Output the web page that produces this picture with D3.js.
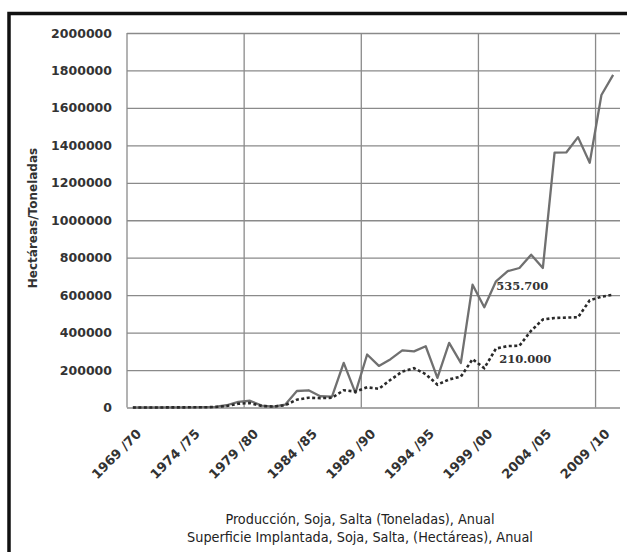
<!DOCTYPE html>
<html>
<head>
    <meta charset="utf-8">
    <title>soja salta</title>
    <script src="https://d3js.org/d3.v7.min.js"></script>
    <style> body { margin: 0px; background: #fff; }</style>
</head>
<body>
<svg width="627" height="552"></svg>
<script>

    // campañas 1969/70 .. 2010/11
    var categories = ["1969/70","1970/71","1971/72","1972/73","1973/74","1974/75","1975/76","1976/77",
        "1977/78","1978/79","1979/80","1980/81","1981/82","1982/83","1983/84","1984/85","1985/86",
        "1986/87","1987/88","1988/89","1989/90","1990/91","1991/92","1992/93","1993/94","1994/95",
        "1995/96","1996/97","1997/98","1998/99","1999/00","2000/01","2001/02","2002/03","2003/04",
        "2004/05","2005/06","2006/07","2007/08","2008/09","2009/10","2010/11"];

    var tickLabels = ["1969 /70","1974 /75","1979 /80","1984 /85","1989 /90",
        "1994 /95","1999 /00","2004 /05","2009 /10"];

    var yTicks = [0,200000,400000,600000,800000,1000000,1200000,1400000,1600000,1800000,2000000];

    // toneladas
    var produccion = [0,0,0,500,1000,1000,1500,3000,12000,30000,36000,10000,5000,15000,
        88000,92000,60000,58000,238000,78000,283000,222000,258000,305000,300000,327000,
        158000,345000,238000,656000,535700,674000,728000,745000,816000,745000,
        1361000,1362000,1444000,1307000,1669000,1776000];

    // hectareas
    var superficie = [0,0,0,500,800,1000,1200,2500,8000,20000,24000,8000,5000,12000,
        42000,52000,50000,52000,92000,85000,108000,100000,148000,192000,210000,178000,
        122000,150000,165000,258000,210000,315000,328000,330000,410000,470000,
        478000,480000,482000,572000,592000,602000];

    var notes = [
        {serie: "produccion", cat: "1999/00", text: "535.700"},
        {serie: "superficie", cat: "1999/00", text: "210.000"}
    ];

    var legendLines = ["Producción, Soja, Salta (Toneladas), Anual",
        "Superficie Implantada, Soja, Salta, (Hectáreas), Anual"];

    var svg = d3.select("svg"),
        plotLeft = 127, plotRight = 619, plotTop = 33, plotBottom = 407.5,
        gridColor = "#8a8a8a";

    svg.append("rect").attr("width", 627).attr("height", 552).attr("fill", "#fff");

    var x = d3.scaleBand().domain(categories).range([plotLeft, plotRight]),
        y = d3.scaleLinear().domain([0, 2000000]).range([plotBottom, plotTop]);

    function cx(c){ return x(c) + x.bandwidth() / 2; }

    // horizontal grid + y labels
    var yAxis = svg.append("g")
        .attr("transform", "translate(" + plotLeft + ",0)")
        .call(d3.axisLeft(y).tickValues(yTicks).tickFormat(d3.format("d"))
            .tickSize(-(plotRight - plotLeft + 1)).tickPadding(15));
    yAxis.select(".domain").remove();
    yAxis.selectAll("line").attr("stroke", gridColor).attr("stroke-width", 1.3);
    yAxis.selectAll("text")
        .attr("fill", "#333")
        .style("font-family", "DejaVu Sans")
        .style("font-weight", "bold")
        .style("font-size", "12.5px");

    // vertical grid every 10 campañas
    var vgrid = categories.filter(function (c, i){ return i % 10 === 0; });
    svg.append("g").selectAll("line").data(vgrid).enter().append("line")
        .attr("x1", function (c){ return x(c); })
        .attr("x2", function (c){ return x(c); })
        .attr("y1", plotTop)
        .attr("y2", plotBottom)
        .attr("stroke", gridColor)
        .attr("stroke-width", 1.3);

    // x labels
    svg.append("g").selectAll("text").data(tickLabels).enter().append("text")
        .attr("transform", function (d){
            return "translate(" + (cx(d.replace(" /", "/")) + 6) + "," + (plotBottom + 24) + ") rotate(-45)";
        })
        .attr("text-anchor", "end")
        .attr("dy", "0.35em")
        .attr("fill", "#333")
        .style("font-family", "DejaVu Sans")
        .style("font-weight", "bold")
        .style("font-size", "13px")
        .text(function (d){ return d; });

    // y axis title
    svg.append("text")
        .attr("transform", "translate(37,218) rotate(-90)")
        .attr("text-anchor", "middle")
        .attr("fill", "#333")
        .style("font-family", "DejaVu Sans")
        .style("font-weight", "bold")
        .style("font-size", "12px")
        .text("Hectáreas/Toneladas");

    var line = d3.line()
        .x(function (d, i){ return cx(categories[i]); })
        .y(function (d){ return y(d); });

    svg.append("path")
        .datum(produccion)
        .attr("d", line)
        .attr("fill", "none")
        .attr("stroke", "#707070")
        .attr("stroke-width", 2.3)
        .attr("stroke-linejoin", "round");

    svg.append("path")
        .datum(superficie)
        .attr("d", line)
        .attr("fill", "none")
        .attr("stroke", "#2a2a2a")
        .attr("stroke-width", 2.6)
        .attr("stroke-dasharray", "3,2.5");

    var series = {produccion: produccion, superficie: superficie},
        offsets = {produccion: [12, -17], superficie: [15, -5.5]};

    svg.append("g").selectAll("text").data(notes).enter().append("text")
        .attr("x", function (d){ return cx(d.cat) + offsets[d.serie][0]; })
        .attr("y", function (d){ return y(series[d.serie][categories.indexOf(d.cat)]) + offsets[d.serie][1]; })
        .attr("fill", "#333")
        .style("font-family", "DejaVu Serif")
        .style("font-weight", "bold")
        .style("font-size", "11.5px")
        .text(function (d){ return d.text; });

    // legend
    svg.append("g").selectAll("text").data(legendLines).enter().append("text")
        .attr("x", 360)
        .attr("y", function (d, i){ return 524 + i * 18; })
        .attr("text-anchor", "middle")
        .attr("fill", "#222")
        .style("font-family", "'Liberation Sans Narrow', 'DejaVu Sans Condensed', sans-serif")
        .style("font-size", "14.3px")
        .text(function (d){ return d; });

    // frame
    svg.append("rect")
        .attr("x", 9)
        .attr("y", 13.5)
        .attr("width", 700)
        .attr("height", 600)
        .attr("fill", "none")
        .attr("stroke", "#111")
        .attr("stroke-width", 3.5);

</script>
</body>
</html>
